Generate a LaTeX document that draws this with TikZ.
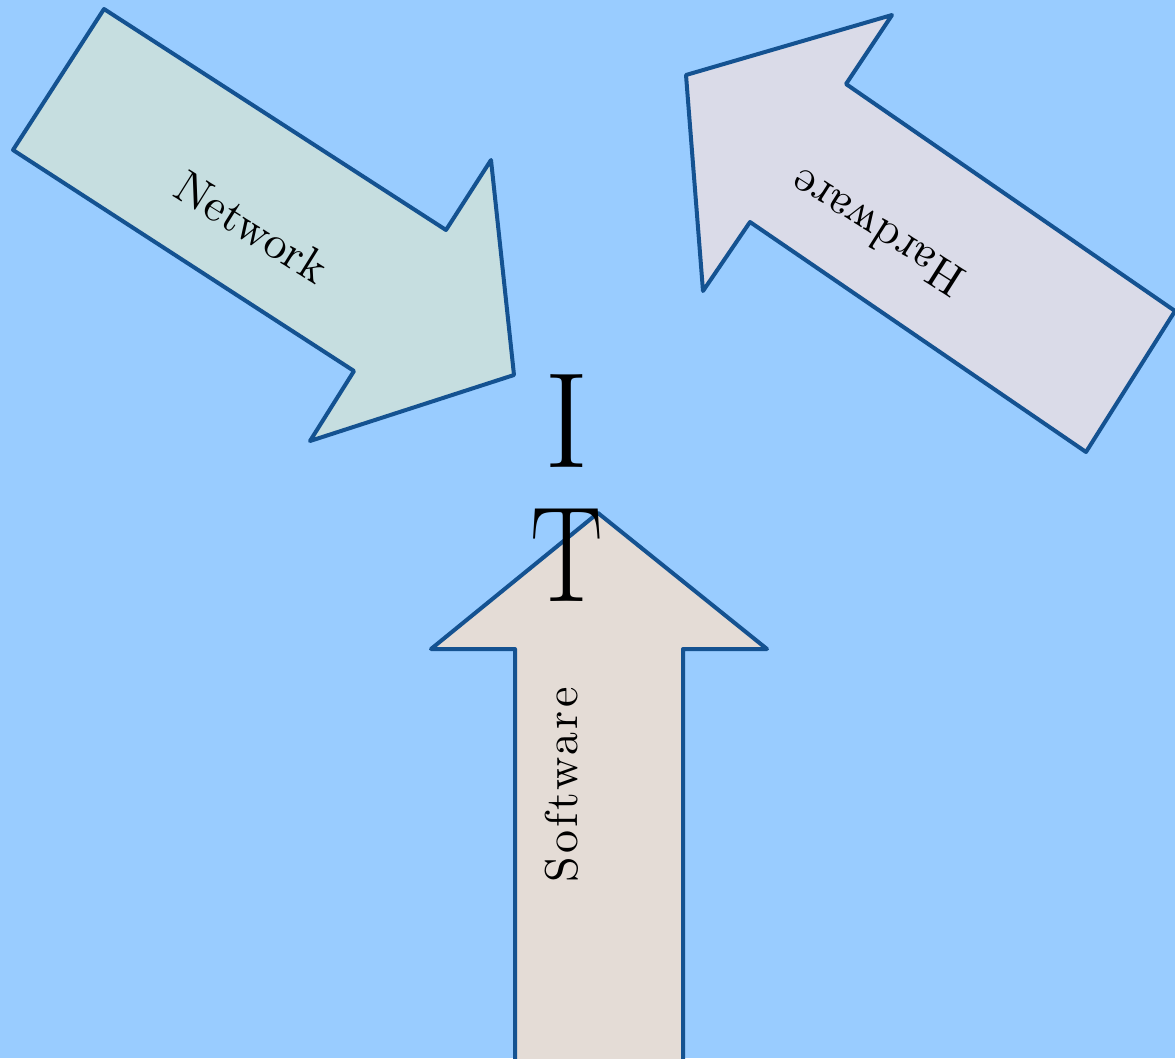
\documentclass[tikz,border=0pt]{standalone}
\usepackage{fontspec}
\newfontfamily\netfont{lmroman10-regular.otf}[LetterSpace=0.5]
\newfontfamily\swfont{lmroman10-regular.otf}[LetterSpace=7]
\definecolor{bgblue}{RGB}{153,204,255}
\definecolor{edgeblue}{RGB}{20,82,145}
\definecolor{netfill}{RGB}{198,222,224}
\definecolor{hwfill}{RGB}{218,219,232}
\definecolor{swfill}{RGB}{228,220,214}
\begin{document}
\begin{tikzpicture}[x=1pt,y=-1pt,
  arrowshape/.style={draw=edgeblue,line width=4pt,line join=round},
  label/.style={font=\netfont\fontsize{46}{46}\selectfont,inner sep=0pt},
  widelabel/.style={font=\swfont\fontsize{46}{46}\selectfont,inner sep=0pt},
  big/.style={font=\rmfamily\fontsize{136}{136}\selectfont,inner sep=0pt}]
\fill[bgblue] (0,0) rectangle (1175,1058);
\useasboundingbox (0,0) rectangle (1175,1058);
% Network arrow
\filldraw[arrowshape,fill=netfill] (104,9) -- (446,230) -- (491,160) -- (514,375) -- (310,441) -- (354,371) -- (13,150) -- cycle;
% Hardware arrow
\filldraw[arrowshape,fill=hwfill] (686,75) -- (892,15) -- (846,84) -- (1175,311) -- (1086,452) -- (750,222) -- (703,291) -- cycle;
% Software arrow
\filldraw[arrowshape,fill=swfill] (598,513) -- (767,649) -- (683,649) -- (683,1064) -- (515,1064) -- (515,649) -- (431,649) -- cycle;
\node[label,rotate=-32] (net) at (252,227) {Network};
\node[label,rotate=147.5] (hw) at (877,233) {Hardware};
\node[widelabel,rotate=90] (sw) at (562,785) {Software};
\node[big] (I) at (567,421) {I};
\node[big,xscale=0.8] (T) at (567,555) {T};
\end{tikzpicture}
\end{document}
